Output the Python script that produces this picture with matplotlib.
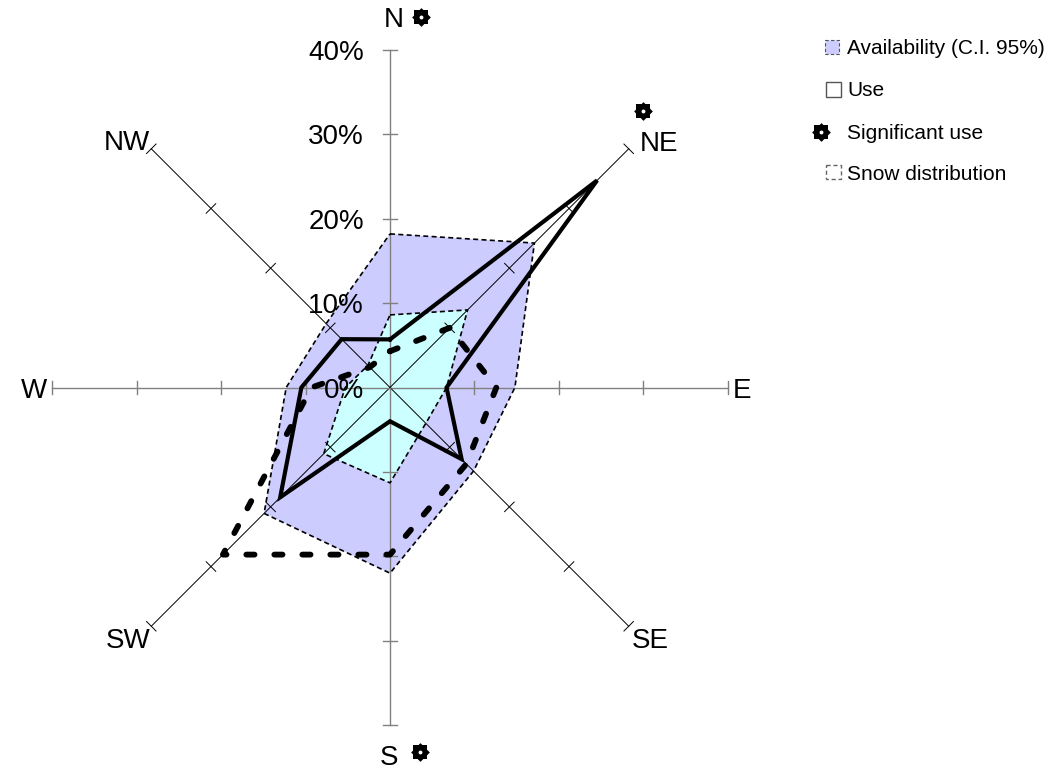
import numpy as np
import matplotlib.pyplot as plt
from matplotlib.patches import Rectangle

plt.rcParams['font.family'] = ['Liberation Sans', 'DejaVu Sans']

# values in percent, clockwise from north
directions = ['N', 'NE', 'E', 'SE', 'S', 'SW', 'W', 'NW']
avail_upper = [18.2, 24.2, 14.8, 14.0, 22.0, 21.1, 12.3, 10.7]
avail_lower = [8.6, 13.0, 6.7, 6.0, 11.3, 11.1, 5.3, 3.7]
use = [5.7, 34.7, 6.7, 12.0, 4.0, 18.4, 10.5, 8.1]
snow = [4.3, 10.0, 12.6, 12.8, 19.8, 28.0, 9.3, 3.4]
significant = ['N', 'NE', 'S']
radial_ticks = [0, 10, 20, 30, 40]
legend_labels = ['Availability (C.I. 95%)', 'Use', 'Significant use', 'Snow distribution']

theta = np.deg2rad(np.arange(len(directions)) * 45.0)


def to_xy(vals, closed=False):
    r = np.asarray(vals, dtype=float)
    x, y = r * np.sin(theta), r * np.cos(theta)
    if closed:
        x, y = np.append(x, x[0]), np.append(y, y[0])
    return x, y


def star(axis, x, y):
    # gear-like mark: two squares + disc, white hole
    axis.plot(x, y, marker=(4, 0, 0), ms=13.5, color='black', mew=0, zorder=9)
    axis.plot(x, y, marker=(4, 0, 45), ms=13.5, color='black', mew=0, zorder=9)
    axis.plot(x, y, marker='o', ms=9.5, color='black', mew=0, zorder=9)
    axis.plot(x, y, marker='o', ms=2.8, color='white', mew=0, zorder=10)


W_PX, H_PX = 1054, 769
px = 8.44            # pixels per percent
cx, cy = 390, 387.5  # centre of the rose in pixels
rmax = radial_ticks[-1]

fig = plt.figure(figsize=(W_PX / 100, H_PX / 100), dpi=100)
ax = fig.add_axes([0, 0, 1, 1])
ax.set_xlim(-cx / px, (W_PX - cx) / px)
ax.set_ylim(-(H_PX - cy) / px, cy / px)
ax.axis('off')

# availability band
xu, yu = to_xy(avail_upper)
xl, yl = to_xy(avail_lower)
ax.fill(xu, yu, color='#ccccff', lw=0, zorder=1)
ax.fill(xl, yl, color='#ccffff', lw=0, zorder=2)

# spokes and ticks
th = 0.8
for i, t in enumerate(theta):
    ux, uy = np.sin(t), np.cos(t)
    col = '#808080' if i % 2 == 0 else 'black'
    lw = 1.0 if i % 2 == 0 else 0.7
    ax.plot([0, rmax * ux], [0, rmax * uy], color=col, lw=lw, zorder=3)
    for r in radial_ticks[1:]:
        ax.plot([r * ux - th * uy, r * ux + th * uy],
                [r * uy + th * ux, r * uy - th * ux], color=col, lw=lw, zorder=3)

x, y = to_xy(avail_upper, True)
ax.plot(x, y, color='black', lw=1.2, ls=(0, (3, 2)), zorder=4)
x, y = to_xy(avail_lower, True)
ax.plot(x, y, color='black', lw=1.2, ls=(0, (3, 2)), zorder=4)

x, y = to_xy(use, True)
ax.plot(x, y, color='black', lw=3, solid_joinstyle='miter', zorder=5)
x, y = to_xy(snow, True)
ax.plot(x, y, color='black', lw=4.2, ls=(0, (1.4, 3.4)),
        dash_capstyle='round', zorder=6)

# radial labels
for r in radial_ticks:
    ax.text(-26 / px, r - 10 / px, f'{r}%', ha='right', va='baseline',
            fontsize=20, zorder=8)

# direction labels: offset (px) from the 40% tip, alignment
lab_pos = {'N': (4, 32.5, 'center'), 'NE': (11, 8, 'left'), 'E': (5, 0, 'left'),
           'SE': (3, -12, 'left'), 'S': (-1, -30, 'center'), 'SW': (-1, -12, 'right'),
           'W': (-5, 0, 'right'), 'NW': (-1, 9, 'right')}
star_pos = {'N': (30.7, 33.3), 'NE': (13.8, 37.3), 'S': (30, -26.7)}
for d, t in zip(directions, theta):
    tx, ty = rmax * np.sin(t), rmax * np.cos(t)
    ox, oy, ha = lab_pos[d]
    ax.text(tx + ox / px, ty + (oy - 10) / px, d, ha=ha, va='baseline',
            fontsize=20, zorder=8)
    if d in significant:
        sx, sy = star_pos[d]
        star(ax, tx + sx / px, ty + sy / px)

# legend (pixel coordinates)
lax = fig.add_axes([0, 0, 1, 1])
lax.set_xlim(0, W_PX)
lax.set_ylim(H_PX, 0)
lax.axis('off')
rows = [47, 89, 131.5, 172.5]
lax.add_patch(Rectangle((825, 40), 14, 14, fc='#ccccff', ec='#555555',
                        lw=0.8, ls=(0, (3, 2))))
lax.add_patch(Rectangle((826, 82), 15, 15, fc='white', ec='#555555', lw=1))
star(lax, 821, rows[2])
lax.add_patch(Rectangle((826, 165), 15, 14, fc='white', ec='#666666',
                        lw=1, ls=(0, (3, 2))))
for lab, ry in zip(legend_labels, rows):
    lax.text(847, ry + 7.5, lab, ha='left', va='baseline', fontsize=15)

fig.savefig('out.png', dpi=100)
